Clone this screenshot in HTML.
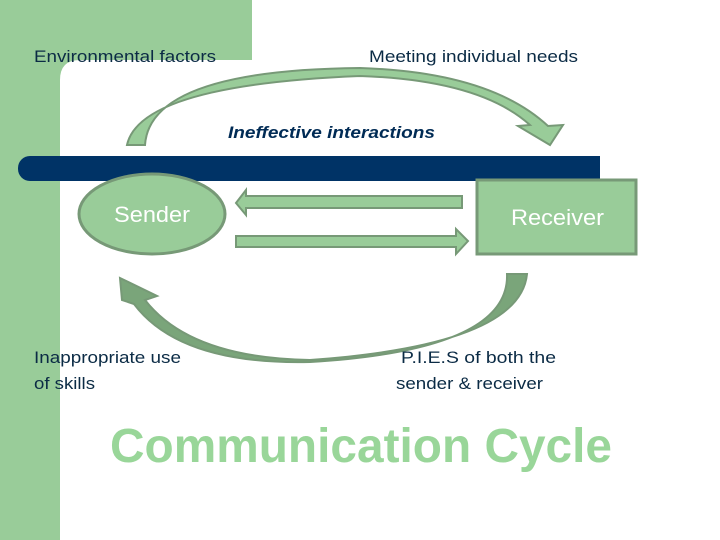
<!DOCTYPE html>
<html><head><style>
body{margin:0;width:720px;height:540px;overflow:hidden;background:#fff;font-family:"Liberation Sans",sans-serif;}
</style></head><body>
<svg width="720" height="540" xmlns="http://www.w3.org/2000/svg" style="position:absolute;left:0;top:0">
<rect x="0" y="0" width="60" height="540" fill="#99cc99"/>
<rect x="0" y="0" width="252" height="60" fill="#99cc99"/>
<path d="M60 80 Q60 60 80 60 L60 60 Z" fill="#99cc99"/>
<rect x="18" y="156" width="582" height="25" rx="12" fill="#003366"/>
<rect x="40" y="156" width="560" height="25" fill="#003366"/>
<path d="M127 145 Q140 85 360 76 Q480 80 530 125 L518 126 L550 145 L563 125 L548 126 Q490 72 360 68 Q150 70 145 145 Z" fill="#99cc99" stroke="#779977" stroke-width="2"/>
<path d="M527 274 Q520 345 310 360 Q190 358 145 300 L157 296 L120 278 L122 300 L134 304 Q180 365 310 362 Q510 350 507 274 Z" fill="#7aa57a" stroke="#779977" stroke-width="2"/>
<ellipse cx="152" cy="214" rx="73" ry="40" fill="#99cc99" stroke="#779977" stroke-width="3"/>
<rect x="477" y="180" width="159" height="74" fill="#99cc99" stroke="#779977" stroke-width="3"/>
<path d="M462 196 L246 196 L246 190 L236 203 L246 215 L246 208 L462 208 Z" fill="#99cc99" stroke="#779977" stroke-width="2"/>
<path d="M236 236 L456 236 L456 229 L468 241 L456 254 L456 247 L236 247 Z" fill="#99cc99" stroke="#779977" stroke-width="2"/>
<g font-family="Liberation Sans, sans-serif" fill="#0b2b45" font-size="17">
<text x="34" y="62" textLength="182" lengthAdjust="spacingAndGlyphs">Environmental factors</text>
<text x="369" y="62" textLength="209" lengthAdjust="spacingAndGlyphs">Meeting individual needs</text>
<text x="228" y="138" font-style="italic" font-weight="bold" fill="#002b55" textLength="207" lengthAdjust="spacingAndGlyphs">Ineffective interactions</text>
<text x="34" y="363" textLength="147" lengthAdjust="spacingAndGlyphs">Inappropriate use</text>
<text x="34" y="389" textLength="61" lengthAdjust="spacingAndGlyphs">of skills</text>
<text x="401" y="363" textLength="155" lengthAdjust="spacingAndGlyphs">P.I.E.S of both the</text>
<text x="396" y="389" textLength="147" lengthAdjust="spacingAndGlyphs">sender &amp; receiver</text>
</g>
<text x="114" y="222" font-size="22" fill="#fff" textLength="76" lengthAdjust="spacingAndGlyphs">Sender</text>
<text x="511" y="225" font-size="22" fill="#fff" textLength="93" lengthAdjust="spacingAndGlyphs">Receiver</text>
<text x="110" y="462" font-size="48" font-weight="bold" fill="#99d699" textLength="502" lengthAdjust="spacingAndGlyphs">Communication Cycle</text>
</svg>
</body></html>
